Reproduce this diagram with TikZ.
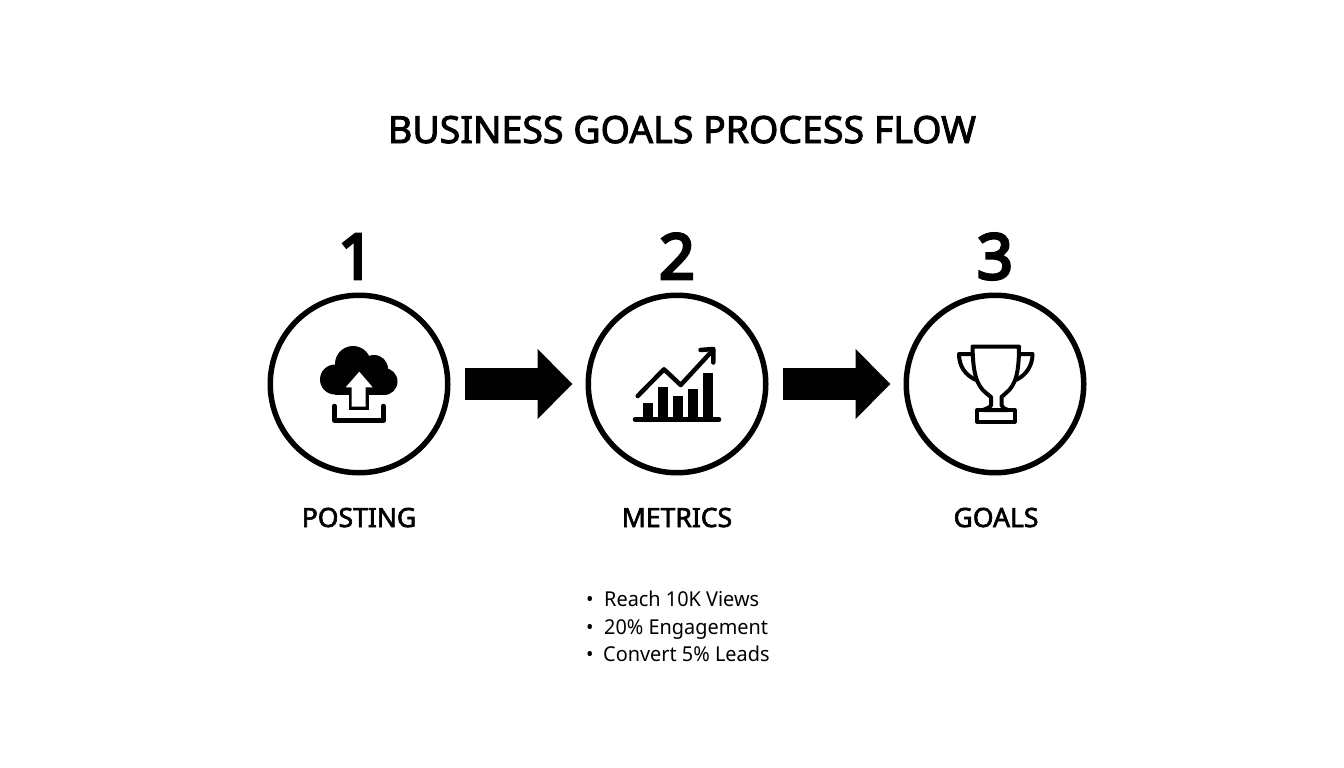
\documentclass[tikz,border=0pt]{standalone}
\usepackage{fontspec}
\setmainfont{Noto Sans}
\newfontfamily\heavyfont{Noto Sans}[FakeBold=2.4]
\newfontfamily\numfont{Noto Sans}[FakeBold=4.5]
\newfontfamily\listfont{Noto Sans}[FakeStretch=0.97]
\usetikzlibrary{arrows.meta}
\tikzset{
  stepcircle/.style={circle,draw=black,line width=5.5pt,minimum size=177.5pt,inner sep=0pt,fill=white},
  blockarrow/.style={draw=black,line width=32pt,-{Triangle[length=35pt,width=68pt]},shorten <=14pt,shorten >=13pt},
  titletext/.style={anchor=base,inner sep=0pt,font=\fontsize{37.5}{37.5}\selectfont\heavyfont},
  numtext/.style={anchor=base,inner sep=0pt,font=\fontsize{63}{63}\selectfont\numfont},
  labeltext/.style={anchor=base,inner sep=0pt,font=\fontsize{26.5}{26.5}\selectfont\heavyfont},
  listtext/.style={anchor=base west,inner sep=0pt,font=\fontsize{20.5}{20.5}\selectfont\listfont},
  iconline/.style={draw=black,line width=4.5pt,line cap=round,line join=round},
  trophyline/.style={draw=black,line width=4pt,line join=round}
}
\begin{document}
\begin{tikzpicture}[x=1pt,y=-1pt]
\useasboundingbox[fill=white] (0,0) rectangle (1344,768);
\node[titletext] (title) at (682,143) {BUSINESS GOALS PROCESS FLOW};
\node[stepcircle] (c1) at (359,384) {};
\node[stepcircle] (c2) at (677,384) {};
\node[stepcircle] (c3) at (995,384) {};
\draw[blockarrow] (c1) -- (c2);
\draw[blockarrow] (c2) -- (c3);
\node[numtext] (n1) at (356,279) {1};
\node[numtext] (n2) at (677,279) {2};
\node[numtext] (n3) at (995,279) {3};
\node[labeltext] (l1) at (359,527) {POSTING};
\node[labeltext] (l2) at (677,527) {METRICS};
\node[labeltext] (l3) at (996,527) {GOALS};
\node[listtext] (b1) at (586,606) {•};
\node[listtext] (b2) at (586,634) {•};
\node[listtext] (b3) at (586,661) {•};
\node[listtext] (t1) at (604,606) {Reach 10K Views};
\node[listtext] (t2) at (604,634) {20\% Engagement};
\node[listtext] (t3) at (603,661) {Convert 5\% Leads};
% cloud upload icon
\fill[black] (335,379.5) circle (15);
\fill[black] (353,364) circle (18);
\fill[black] (374,369) circle (14);
\fill[black] (384,381.5) circle (13.5);
\fill[black] (335,376) rectangle (385,395);
\fill[black] (349,385) rectangle (369,410);
\fill[white] (359.3,371.7) -- (372.7,387.3) -- (365.7,387.3) -- (365.7,406.5) -- (351.7,406.5) -- (351.7,387.3) -- (345.7,387.3) -- cycle;
\draw[iconline] (334.5,406) -- (334.5,420.5) -- (383.5,420.5) -- (383.5,406);
% chart icon
\fill[black] (642.7,402.7) rectangle (652.7,419);
\fill[black] (657.8,386.7) rectangle (667.8,419);
\fill[black] (673.2,395.7) rectangle (683.2,419);
\fill[black] (688.2,389.3) rectangle (698.2,419);
\fill[black] (703.2,373.3) rectangle (713.2,419);
\draw[iconline] (635,419.5) -- (719,419.5);
\draw[iconline] (637.7,396) -- (664,369.3) -- (680.7,385) -- (713,350);
\draw[iconline] (700.5,350) -- (713.3,349) -- (713.3,362.5);
% trophy icon
\draw[trophyline] (972.5,346.5) -- (1019,346.5) .. controls (1019,372) and (1016,385) .. (1006,393) -- (1001.5,397) -- (1001.5,405) .. controls (1001.5,407) and (1004,408.5) .. (1008,410) -- (983,410) .. controls (987,408.5) and (991,407) .. (991,405) -- (991,397) -- (986,393) .. controls (976,385) and (973,372) .. (972.5,346.5) -- cycle;
\draw[trophyline] (977,410) rectangle (1014.5,421.5);
\draw[trophyline] (972,354) -- (959,354) .. controls (959,366) and (965,375) .. (976,380);
\draw[trophyline] (1020,354) -- (1032.5,354) .. controls (1032.5,366) and (1026,375) .. (1016,380);
\end{tikzpicture}
\end{document}
